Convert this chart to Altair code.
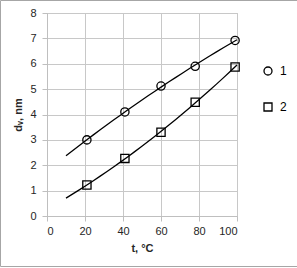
import altair as alt
import pandas as pd

t_vals = [21, 41, 60, 78, 99]
d1_vals = [3.0, 4.1, 5.12, 5.9, 6.92]
d2_vals = [1.22, 2.27, 3.3, 4.48, 5.87]
series_names = ["1", "2"]
x_ticks = [0, 20, 40, 60, 80, 100]
y_ticks = [0, 1, 2, 3, 4, 5, 6, 7, 8]

rows = []
for t, a, b in zip(t_vals, d1_vals, d2_vals):
    rows.append({"t": t, "d": a, "s": series_names[0]})
    rows.append({"t": t, "d": b, "s": series_names[1]})
df = pd.DataFrame(rows)

FONT = "Liberation Sans"
W, H = 190, 203
PL, PT = 47, 13

xscale = alt.Scale(domain=[0, 100], nice=False)
yscale = alt.Scale(domain=[0, 8], nice=False)
xax = alt.Axis(values=x_ticks, title="t, °C", grid=True, tickSize=5, labelPadding=4,
               titlePadding=6)
yax = alt.Axis(values=y_ticks, title="dᵥ, nm", grid=True, tickSize=5, labelPadding=6,
               titlePadding=6)

base = alt.Chart(df)

border = alt.Chart(pd.DataFrame({"a": [0]})).mark_rect(
    fill="transparent", stroke="#a6a6a6", strokeWidth=1
).encode(
    x=alt.value(-PL + 0.5), x2=alt.value(297 - PL + 3),
    y=alt.value(-PT + 0.5), y2=alt.value(266 - PT + 0.5)
)

lines = base.transform_regression(
    "t", "d", groupby=["s"], method="poly", order=2, extent=[10, 100]
).mark_line(color="black", strokeWidth=1.3).encode(
    x=alt.X("t:Q", scale=xscale, axis=xax),
    y=alt.Y("d:Q", scale=yscale, axis=yax),
    detail="s:N",
)

points = base.mark_point(filled=False, color="black", strokeWidth=1.3, opacity=1).encode(
    x=alt.X("t:Q", scale=xscale, axis=xax),
    y=alt.Y("d:Q", scale=yscale, axis=yax),
    shape=alt.Shape("s:N", scale=alt.Scale(domain=series_names, range=["circle", "square"]),
                    legend=alt.Legend(title=None, orient="none", legendX=215, legendY=52,
                                      symbolSize=64, symbolStrokeColor="black",
                                      symbolFillColor="transparent", symbolStrokeWidth=1.3,
                                      labelFontSize=12, labelFont=FONT, rowPadding=22,
                                      labelOffset=6, padding=0)),
    size=alt.value(68),
)

chart = alt.layer(lines, points, border).properties(
    width=W, height=H,
    autosize=alt.AutoSizeParams(type="none"),
    padding={"left": PL, "top": PT, "right": 297 - PL - W, "bottom": 268 - PT - H},
    background="white",
).configure_view(stroke="#bfbfbf", strokeWidth=1).configure_axis(
    gridColor="#c8c8c8", gridWidth=1, domainColor="#bfbfbf", tickColor="#bfbfbf",
    labelFont=FONT, labelFontSize=11, labelColor="#262626",
    titleFont=FONT, titleFontSize=11, titleColor="#262626", titleFontWeight="bold",
)

chart.save("out.html", embed_options={"renderer": "svg", "actions": False})
